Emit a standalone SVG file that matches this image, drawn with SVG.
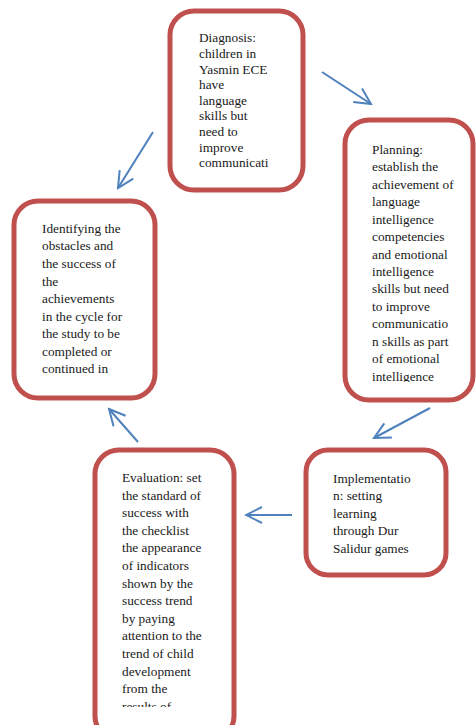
<svg xmlns="http://www.w3.org/2000/svg" width="476" height="725" viewBox="0 0 476 725">
<style>
.box{fill:#fff;stroke:#c0504d;stroke-width:5}
.t{font-family:"Liberation Serif","Times New Roman",serif;font-size:13.3px;fill:#1a1a1a}
.c{fill:none;stroke:#4f81bd;stroke-width:2;marker-end:url(#ah)}
</style>
<defs>
<marker id="ah" markerUnits="userSpaceOnUse" markerWidth="20" markerHeight="20" viewBox="0 0 20 20" refX="18" refY="10" orient="auto">
<path d="M2,2 L18,10 L2,18" fill="none" stroke="#4f81bd" stroke-width="2"/>
</marker>
<clipPath id="c1"><rect x="170" y="10" width="133" height="163"/></clipPath>
<clipPath id="c2"><rect x="345" y="120" width="128" height="262"/></clipPath>
<clipPath id="c4"><rect x="95" y="450" width="139" height="257"/></clipPath>
</defs>
<rect width="476" height="725" fill="#fff"/>
<g id="connectors">
<line class="c" x1="322" y1="72" x2="371" y2="104"/>
<line class="c" x1="153" y1="132" x2="118" y2="188"/>
<line class="c" x1="430" y1="408" x2="374" y2="438"/>
<line class="c" x1="292" y1="515" x2="246" y2="515"/>
<line class="c" x1="138" y1="442" x2="109" y2="409"/>
</g>
<g id="diagnosis">
<rect class="box" x="170" y="11" width="133" height="179" rx="24"/>
<text class="t" clip-path="url(#c1)"><tspan x="199" y="42">Diagnosis:</tspan><tspan x="199" y="58">children in</tspan><tspan x="199" y="74">Yasmin ECE</tspan><tspan x="199" y="89">have</tspan><tspan x="199" y="105">language</tspan><tspan x="199" y="120">skills but</tspan><tspan x="199" y="136">need to</tspan><tspan x="199" y="152">improve</tspan><tspan x="199" y="167">communicati</tspan><tspan x="199" y="183">on skills</tspan></text>
</g>
<g id="planning">
<rect class="box" x="345" y="120" width="128" height="280" rx="24"/>
<text class="t" clip-path="url(#c2)"><tspan x="372" y="154">Planning:</tspan><tspan x="372" y="171">establish the</tspan><tspan x="372" y="189">achievement of</tspan><tspan x="372" y="206">language</tspan><tspan x="372" y="224">intelligence</tspan><tspan x="372" y="241">competencies</tspan><tspan x="372" y="259">and emotional</tspan><tspan x="372" y="276">intelligence</tspan><tspan x="372" y="293">skills but need</tspan><tspan x="372" y="311">to improve</tspan><tspan x="372" y="328">communicatio</tspan><tspan x="372" y="346">n skills as part</tspan><tspan x="372" y="363">of emotional</tspan><tspan x="372" y="381">intelligence</tspan></text>
</g>
<g id="identifying">
<rect class="box" x="14" y="201" width="141" height="197" rx="24"/>
<text class="t"><tspan x="42" y="233">Identifying the</tspan><tspan x="42" y="250">obstacles and</tspan><tspan x="42" y="268">the success of</tspan><tspan x="42" y="286">the</tspan><tspan x="42" y="303">achievements</tspan><tspan x="42" y="321">in the cycle for</tspan><tspan x="42" y="338">the study to be</tspan><tspan x="42" y="356">completed or</tspan><tspan x="42" y="373">continued in</tspan></text>
</g>
<g id="implementation">
<rect class="box" x="306" y="450" width="140" height="125" rx="22"/>
<text class="t"><tspan x="333" y="483">Implementatio</tspan><tspan x="333" y="500">n: setting</tspan><tspan x="333" y="518">learning</tspan><tspan x="333" y="535">through Dur</tspan><tspan x="333" y="553">Salidur games</tspan></text>
</g>
<g id="evaluation">
<rect class="box" x="95" y="450" width="139" height="290" rx="24"/>
<text class="t" clip-path="url(#c4)"><tspan x="122" y="482">Evaluation: set</tspan><tspan x="122" y="500">the standard of</tspan><tspan x="122" y="517">success with</tspan><tspan x="122" y="535">the checklist</tspan><tspan x="122" y="552">the appearance</tspan><tspan x="122" y="570">of indicators</tspan><tspan x="122" y="588">shown by the</tspan><tspan x="122" y="605">success trend</tspan><tspan x="122" y="623">by paying</tspan><tspan x="122" y="640">attention to the</tspan><tspan x="122" y="658">trend of child</tspan><tspan x="122" y="676">development</tspan><tspan x="122" y="693">from the</tspan><tspan x="122" y="711">results of</tspan></text>
</g>
</svg>
